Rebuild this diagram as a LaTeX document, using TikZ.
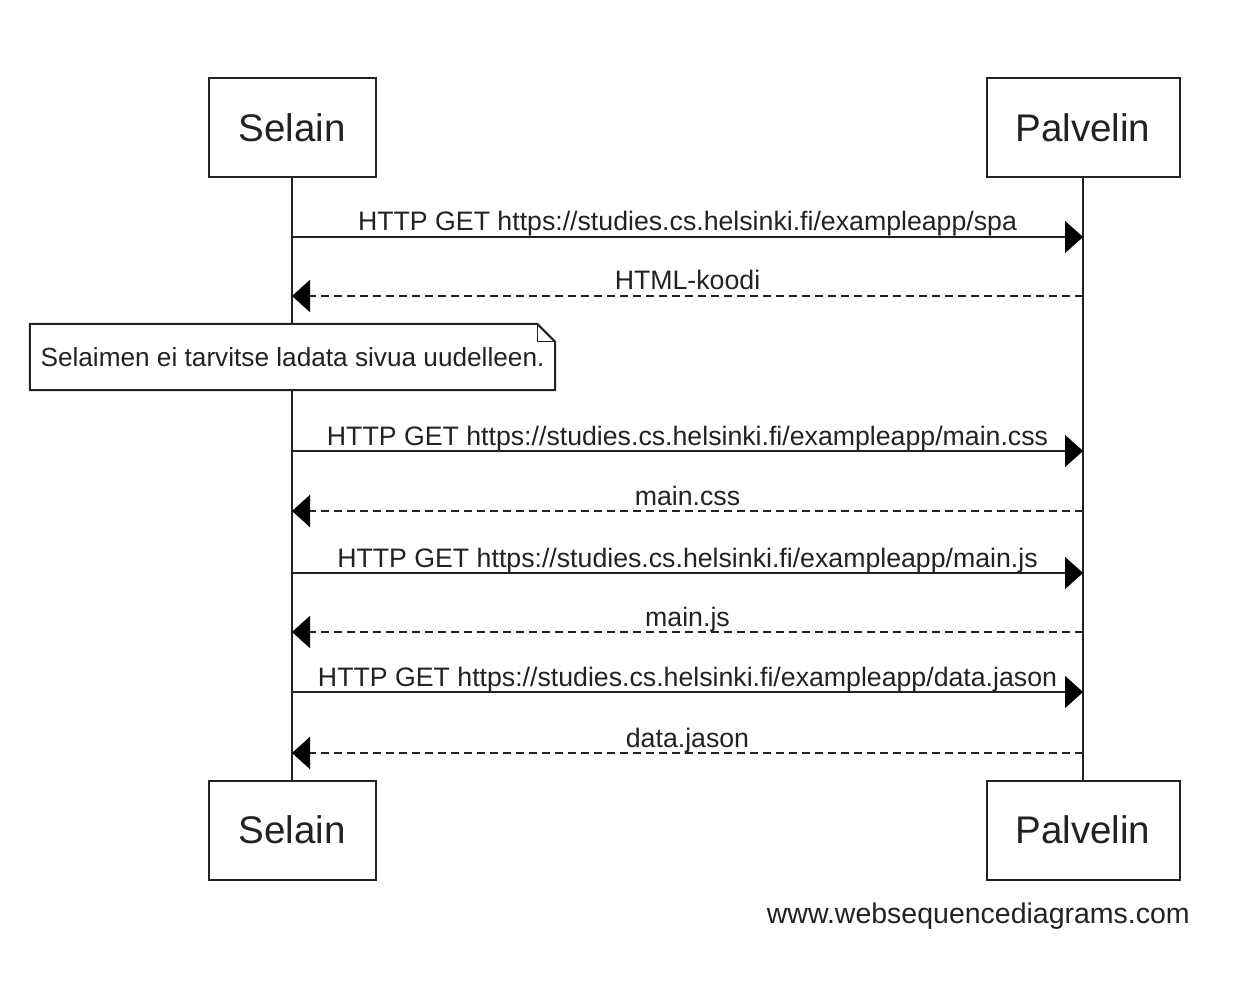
\documentclass[tikz,border=0pt]{standalone}
\usepackage{fontspec}
\setmainfont{Liberation Sans}
\usetikzlibrary{arrows.meta}
\definecolor{ink}{HTML}{222222}
\begin{document}
\begin{tikzpicture}[x=1pt,y=-1pt,
 actor/.style={draw=ink, line width=2pt, fill=white, minimum height=99pt, inner sep=0pt, text=ink, font=\fontsize{38.5}{44}\selectfont},
 life/.style={draw=ink, line width=2pt},
 msg/.style={draw=ink, line width=2pt, -{Triangle[length=18pt,width=32pt,color=black]}},
 reply/.style={msg, dash pattern=on 8pt off 5pt},
 lbl/.style={anchor=base, yshift=6pt, inner sep=0pt, text=ink, font=\fontsize{26.7}{30}\selectfont},
]
\useasboundingbox (0,0) rectangle (1240,1000);

\node[actor, minimum width=167pt] (s1) at (292,127.5) {Selain};
\node[actor, minimum width=193pt] (p1) at (1083,127.5) {Palvelin};
\node[actor, minimum width=167pt] (s2) at (292,830) {Selain};
\node[actor, minimum width=193pt] (p2) at (1083,830) {Palvelin};

\draw[life] (s1) -- (s2);
\draw[life] (p1) -- (p2);

\coordinate (a1) at (292,237); \coordinate (b1) at (1083,237);
\coordinate (a2) at (292,296); \coordinate (b2) at (1083,296);
\coordinate (a3) at (292,451); \coordinate (b3) at (1083,451);
\coordinate (a4) at (292,511); \coordinate (b4) at (1083,511);
\coordinate (a5) at (292,573); \coordinate (b5) at (1083,573);
\coordinate (a6) at (292,632); \coordinate (b6) at (1083,632);
\coordinate (a7) at (292,692); \coordinate (b7) at (1083,692);
\coordinate (a8) at (292,753); \coordinate (b8) at (1083,753);

\draw[msg] (a1) -- node[lbl] (l1) {HTTP GET https://studies.cs.helsinki.fi/exampleapp/spa} (b1);
\draw[reply] (b2) -- node[lbl] (l2) {HTML-koodi} (a2);
\draw[msg] (a3) -- node[lbl] (l3) {HTTP GET https://studies.cs.helsinki.fi/exampleapp/main.css} (b3);
\draw[reply] (b4) -- node[lbl] (l4) {main.css} (a4);
\draw[msg] (a5) -- node[lbl] (l5) {HTTP GET https://studies.cs.helsinki.fi/exampleapp/main.js} (b5);
\draw[reply] (b6) -- node[lbl] (l6) {main.js} (a6);
\draw[msg] (a7) -- node[lbl] (l7) {HTTP GET https://studies.cs.helsinki.fi/exampleapp/data.jason} (b7);
\draw[reply] (b8) -- node[lbl] (l8) {data.jason} (a8);

\node[draw=none, fill=white, minimum width=525pt, minimum height=66pt, inner sep=0pt, text=ink, font=\fontsize{26.2}{30}\selectfont] (note) at (292.5,357) {Selaimen ei tarvitse ladata sivua uudelleen.};
\draw[life, line join=miter] (note.south west) -- (note.north west) -- ([xshift=-18pt]note.north east) -- ([yshift=-18pt]note.north east) -- (note.south east) -- cycle;
\draw[draw=ink, line width=1.2pt] ([xshift=-18pt]note.north east) |- ([yshift=-18pt]note.north east);

\node[anchor=east, inner sep=0pt, text=ink, font=\fontsize{28.5}{32}\selectfont] (wm) at (1190,916) {www.websequencediagrams.com};
\end{tikzpicture}
\end{document}
